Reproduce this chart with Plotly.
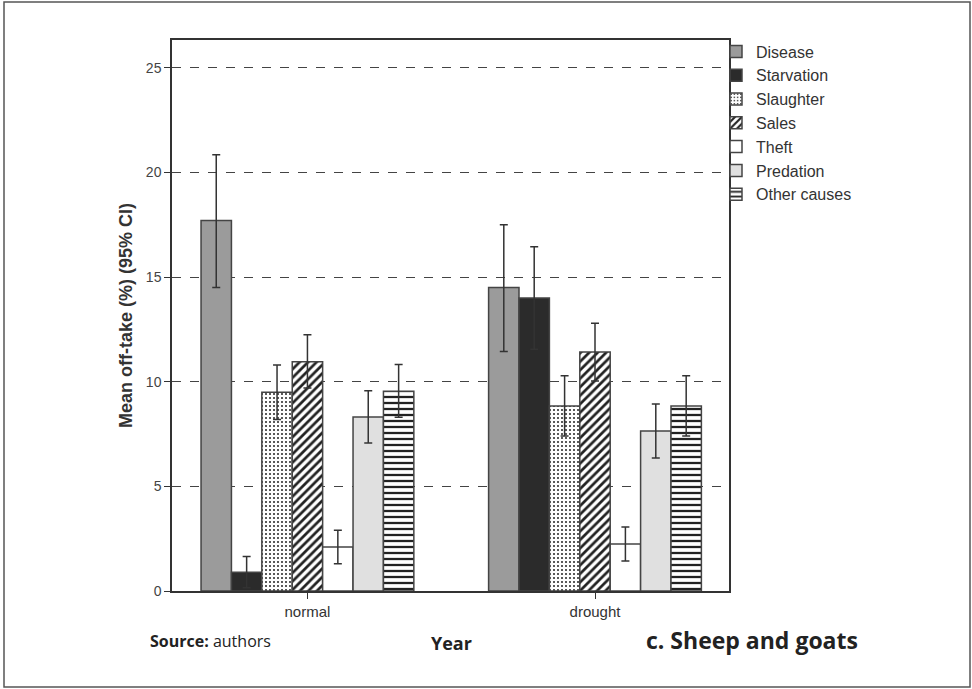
import plotly.graph_objects as go

categories = ["normal", "drought"]
series = ["Disease", "Starvation", "Slaughter", "Sales", "Theft", "Predation", "Other causes"]
means = {
    "Disease":      [17.7, 14.5],
    "Starvation":   [0.9, 14.0],
    "Slaughter":    [9.5, 8.84],
    "Sales":        [10.95, 11.42],
    "Theft":        [2.1, 2.25],
    "Predation":    [8.32, 7.65],
    "Other causes": [9.55, 8.84],
}
ci_upper = {
    "Disease":      [20.85, 17.5],
    "Starvation":   [1.65, 16.45],
    "Slaughter":    [10.8, 10.28],
    "Sales":        [12.25, 12.8],
    "Theft":        [2.9, 3.06],
    "Predation":    [9.57, 8.94],
    "Other causes": [10.82, 10.28],
}
ci_lower = {
    "Disease":      [14.5, 11.45],
    "Starvation":   [0.15, 11.55],
    "Slaughter":    [8.2, 7.41],
    "Sales":        [9.7, 10.04],
    "Theft":        [1.3, 1.43],
    "Predation":    [7.07, 6.36],
    "Other causes": [8.3, 7.41],
}
y_ticks = [0, 5, 10, 15, 20, 25]

styles = {
    "Disease":      dict(color="#9b9b9b", shape=""),
    "Starvation":   dict(color="#2b2b2b", shape=""),
    "Slaughter":    dict(color="#ffffff", shape="."),
    "Sales":        dict(color="#ffffff", shape="/"),
    "Theft":        dict(color="#ffffff", shape=""),
    "Predation":    dict(color="#e0e0e0", shape=""),
    "Other causes": dict(color="#ffffff", shape="-"),
}

fig = go.Figure()
for s in series:
    st = styles[s]
    up = [u - m for u, m in zip(ci_upper[s], means[s])]
    lo = [m - l for m, l in zip(means[s], ci_lower[s])]
    pattern = dict(shape=st["shape"], fgcolor="#222222", bgcolor=st["color"],
                   fillmode="overlay", fgopacity=1)
    if st["shape"] == ".":
        pattern.update(size=4, solidity=0.2)
    elif st["shape"] == "/":
        pattern.update(size=6, solidity=0.45)
    elif st["shape"] == "-":
        pattern.update(size=6, solidity=0.38)
    fig.add_trace(go.Bar(
        name=s, x=categories, y=means[s],
        marker=dict(color=st["color"], line=dict(color="#444444", width=1.5),
                    pattern=pattern if st["shape"] else None),
        error_y=dict(type="data", array=up, arrayminus=lo, visible=True,
                     color="#333333", thickness=1.5, width=4),
    ))

fig.update_layout(
    width=972, height=689,
    margin=dict(l=172, r=243, t=40, b=98),
    paper_bgcolor="white", plot_bgcolor="white",
    barmode="group", bargap=0.26, bargroupgap=0,
    font=dict(family="Liberation Sans, Arial", color="#333333"),
    showlegend=True,
    legend=dict(x=(716 - 172) / 557, y=1.01, xanchor="left", yanchor="top",
                font=dict(size=16, color="#333333"), bgcolor="rgba(0,0,0,0)",
                tracegroupgap=0, itemwidth=30),
    xaxis=dict(range=[-0.471, 1.466], showline=True, linecolor="#333333", linewidth=1.5,
               mirror=True, ticks="outside", ticklen=6, tickcolor="#333333",
               tickfont=dict(size=15, family="Liberation Sans Narrow, Liberation Sans", color="#333333"),
               showgrid=False),
    yaxis=dict(range=[0, 26.33], tickvals=y_ticks, showline=True, linecolor="#333333",
               linewidth=1.5, mirror=True, ticks="outside", ticklen=6, tickcolor="#333333",
               tickfont=dict(size=14, color="#444444"),
               showgrid=True, gridcolor="#444444", griddash="dash", gridwidth=1,
               zeroline=False,
               title=dict(text="<b>Mean off-take (%) (95% CI)</b>", font=dict(size=18, color="#333333"),
                          standoff=9)),
    shapes=[dict(type="rect", xref="paper", yref="paper",
                 x0=(4 - 172) / 557, x1=(970 - 172) / 557, y0=(591 - 687) / 551, y1=(591 - 2) / 551,
                 line=dict(color="#555555", width=1.5))],
    annotations=[
        dict(text="<b>Source:</b> authors", xref="paper", yref="paper",
             x=(148 - 172) / 557, y=(591 - 641) / 551, xanchor="left", yanchor="middle",
             showarrow=False, font=dict(size=16, family="Open Sans, Noto Sans", color="#222222")),
        dict(text="<b>Year</b>", xref="paper", yref="paper",
             x=(451 - 172) / 557, y=(591 - 643) / 551, xanchor="center", yanchor="middle",
             showarrow=False, font=dict(size=18, family="Open Sans, Noto Sans", color="#222222")),
        dict(text="<b>c. Sheep and goats</b>", xref="paper", yref="paper",
             x=(860 - 172) / 557, y=(591 - 640) / 551, xanchor="right", yanchor="middle",
             showarrow=False, font=dict(size=23, family="Open Sans, Noto Sans", color="#222222")),
    ],
)

fig.write_html("out.html", config={"displayModeBar": False},
               post_script="document.body.style.margin='0';")
